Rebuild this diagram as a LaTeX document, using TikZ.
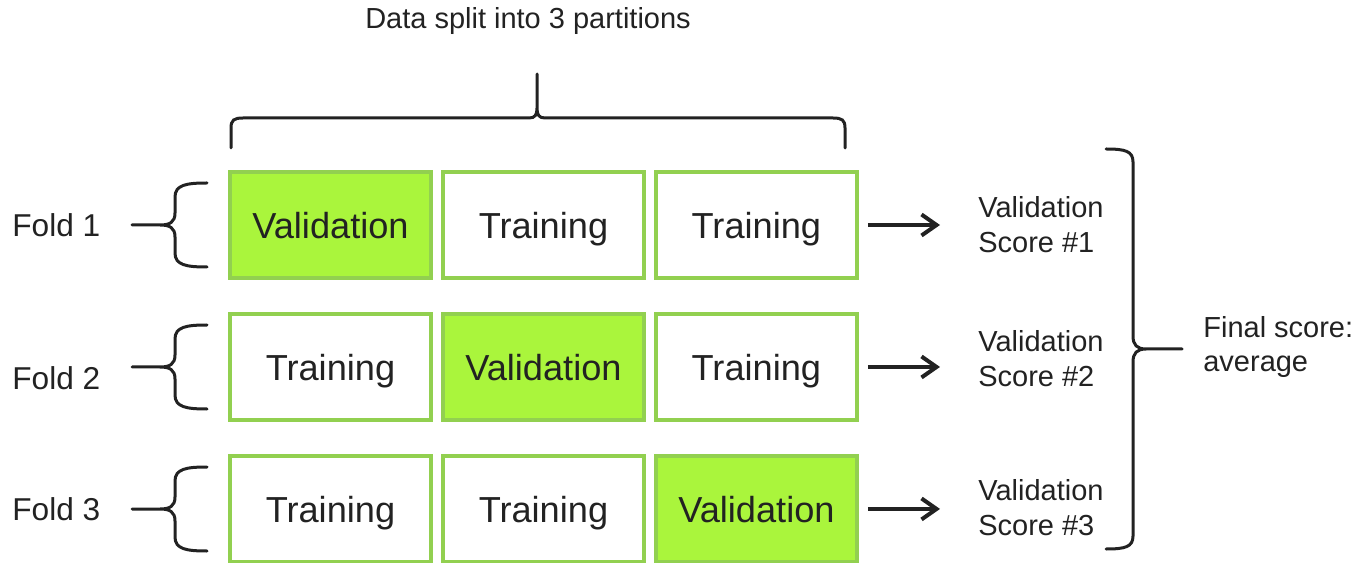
\documentclass[tikz,border=0pt]{standalone}
\usepackage{fontspec}
\setmainfont{Liberation Sans}
\usepackage{xcolor}
\usetikzlibrary{arrows.meta, positioning, calc}

\definecolor{limefill}{RGB}{170,245,60}
\definecolor{limeedge}{RGB}{146,208,80}
\definecolor{inkgray}{RGB}{34,34,34}

\begin{document}
\begin{tikzpicture}[x=0.02cm, y=-0.02cm,
  part/.style={draw=limeedge, line width=0.08cm, minimum width=4.02cm,
    minimum height=2.12cm, inner sep=0pt, text=inkgray,
    text height=15pt, text depth=0pt,
    font=\fontsize{20.6}{24}\selectfont},
  valbox/.style={part, fill=limefill},
  trainbox/.style={part, fill=white},
  lbl/.style={inner sep=0pt, text=inkgray, font=\fontsize{18}{22}\selectfont},
  score/.style={inner sep=0pt, align=left, text=inkgray,
    font=\fontsize{16.5}{19.8}\selectfont},
  curly/.style={line width=0.06cm, draw=inkgray, line cap=round},
  arr/.style={line width=0.08cm, draw=inkgray, shorten <=0.18cm, shorten >=0.76cm,
    -{Straight Barb[length=0.3cm, width=0.42cm]}},
  node distance=0.64cm and 0.16cm]
  \useasboundingbox (0,0) rectangle (1371,563);

  % Title and top brace
  \node[score] (title) at (528,21) {Data split into 3 partitions};
  \draw[curly] (231,148) -- (231,128) .. controls (231,120) and (234,118) .. (243,118)
    -- (529,118) .. controls (535,118) and (537,115) .. (537,108) -- (537,74)
    (537,108) .. controls (537,115) and (539,118) .. (545,118)
    -- (833,118) .. controls (842,118) and (845,120) .. (845,128) -- (845,148);

  % Fold 1
  \node[valbox] (b11) at (330.5,225) {Validation};
  \node[trainbox, right=of b11] (b12) {Training};
  \node[trainbox, right=of b12] (b13) {Training};

  % Fold 2
  \node[trainbox, below=of b11] (b21) {Training};
  \node[valbox, right=of b21] (b22) {Validation};
  \node[trainbox, right=of b22] (b23) {Training};

  % Fold 3
  \node[trainbox, below=of b21] (b31) {Training};
  \node[trainbox, right=of b31] (b32) {Training};
  \node[valbox, right=of b32] (b33) {Validation};

  % Fold labels and their braces
  \node[lbl, anchor=west] (f1) at (12,225) {Fold 1};
  \node[lbl, anchor=west] (f2) at (12,378) {Fold 2};
  \node[lbl, anchor=west] (f3) at (12,509) {Fold 3};
  \foreach \y in {225,367,509}
    \draw[curly] (207,\y-42) .. controls (186,\y-42) and (175,\y-40) .. (175,\y-28)
      -- (175,\y-12) .. controls (175,\y-3) and (170,\y) .. (160,\y) -- (132,\y)
      (160,\y) .. controls (170,\y) and (175,\y+3) .. (175,\y+12)
      -- (175,\y+28) .. controls (175,\y+40) and (186,\y+42) .. (207,\y+42);

  % Scores
  \node[score, anchor=west] (s1) at (978,225) {Validation\\Score \#1};
  \node[score, anchor=west] (s2) at (978,359) {Validation\\Score \#2};
  \node[score, anchor=west] (s3) at (978,508) {Validation\\Score \#3};
  \draw[arr] (b13.east) -- (s1.west |- b13.east);
  \draw[arr] (b23.east) -- (s2.west |- b23.east);
  \draw[arr] (b33.east) -- (s3.west |- b33.east);

  % Final brace
  \draw[curly] (1106,149) .. controls (1125,149) and (1133,151) .. (1133,162)
    -- (1133,336) .. controls (1133,345) and (1137,349) .. (1146,349) -- (1182,349)
    (1146,349) .. controls (1137,349) and (1133,353) .. (1133,362)
    -- (1133,536) .. controls (1133,547) and (1125,549) .. (1106,549);
  \node[score, anchor=west] (final) at (1203,347) {Final score:\\average};
\end{tikzpicture}
\end{document}
